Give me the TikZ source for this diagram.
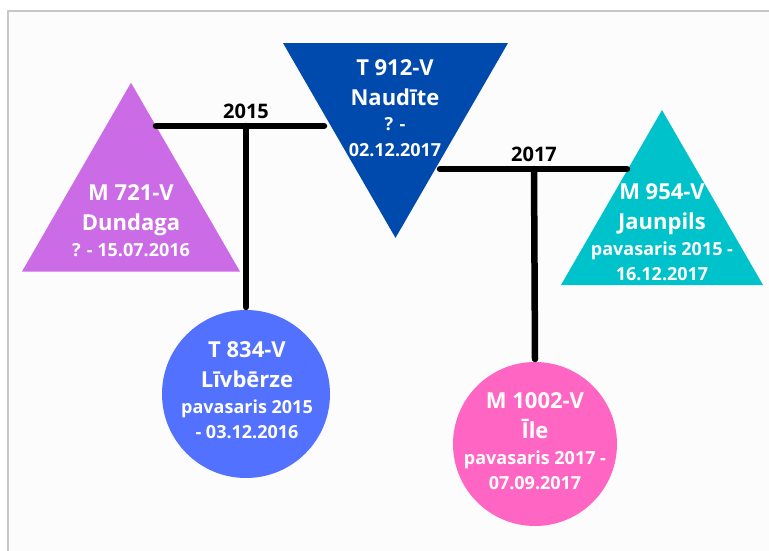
\documentclass[tikz,border=0pt]{standalone}
\usepackage{fontspec}
\setmainfont{Open Sans}
\usetikzlibrary{shapes.geometric}
\definecolor{dundcolor}{HTML}{CB6CE6}
\definecolor{naudcolor}{HTML}{004AAD}
\definecolor{jaupcolor}{HTML}{00C2CB}
\definecolor{livbcolor}{HTML}{5271FF}
\definecolor{ilecolor}{HTML}{FF66C4}
\definecolor{pagecolor}{HTML}{FCFCFC}
\colorlet{framegrey}{black!22!white}
\newcommand\smalldate{\fontsize{18}{25}\selectfont}

\begin{document}
\begin{tikzpicture}[
    x=1pt, y=-1pt,
    every node/.style={font=\bfseries},
    tri/.style={regular polygon, regular polygon sides=3, inner sep=0pt, outer sep=0pt},
    disc/.style={circle, inner sep=0pt, outer sep=0pt},
    txt/.style={text=white, align=center, anchor=base,
        font=\bfseries\fontsize{22}{30}\selectfont},
    yeartext/.style={anchor=base, font=\bfseries\fontsize{20}{24}\selectfont},
    tbar/.style={line width=6.5pt, line cap=round}
]

\useasboundingbox (0,0) rectangle (769,551);
\fill [pagecolor] (8,11) rectangle (769,551);
\draw [framegrey, line width=1.2pt] (8,551) -- (8,11) -- (769,11);

% shapes
\node [tri, fill=dundcolor, minimum size=251.7pt] (dund) at (131,208.6) {};
\node [tri, fill=naudcolor, shape border rotate=180, minimum size=259.8pt] (naud) at (395.5,108) {};
\node [tri, fill=jaupcolor, minimum size=233.3pt] (jaup) at (662,226.7) {};
\node [disc, fill=livbcolor, minimum size=168pt] (livb) at (246,394) {};
\node [disc, fill=ilecolor, minimum size=164pt] (ile) at (535,444) {};

% bars
\coordinate (l15) at (156,126);
\coordinate (j15) at (246,126);
\coordinate (r15) at (324,126);
\coordinate (l17) at (440,169);
\coordinate (j17) at (534,169);
\coordinate (r17) at (627,169);

\draw [tbar] (l15) -- (r15);
\draw [tbar] (j15) -- ([yshift=3pt]livb.north);
\draw [tbar] (l17) -- (r17);
\draw [tbar] (j17) -- ([yshift=3pt]ile.north);

\node [yeartext] (y15) at (246,118) {2015};
\node [yeartext] (y17) at (534,161) {2017};

% texts (anchored at the last line)
\node [txt] (dundtxt) at (131,256) {M 721-V\\Dundaga\\[-4pt]\smalldate ? - 15.07.2016};
\node [txt] (naudtxt) at (395,156) {T 912-V\\Naudīte\\[-4pt]\smalldate ? -\\[-5pt]\smalldate 02.12.2017};
\node [txt] (jauptxt) at (662,280) {M 954-V\\Jaunpils\\[-4pt]\smalldate pavasaris 2015 -\\[-5pt]\smalldate 16.12.2017};
\node [txt] (livbtxt) at (247,438) {T 834-V\\Līvbērze\\[-4pt]\smalldate pavasaris 2015\\[-5pt]\smalldate - 03.12.2016};
\node [txt] (iletxt) at (535,489) {M 1002-V\\Īle\\[-4pt]\smalldate pavasaris 2017 -\\[-5pt]\smalldate 07.09.2017};

\end{tikzpicture}
\end{document}
